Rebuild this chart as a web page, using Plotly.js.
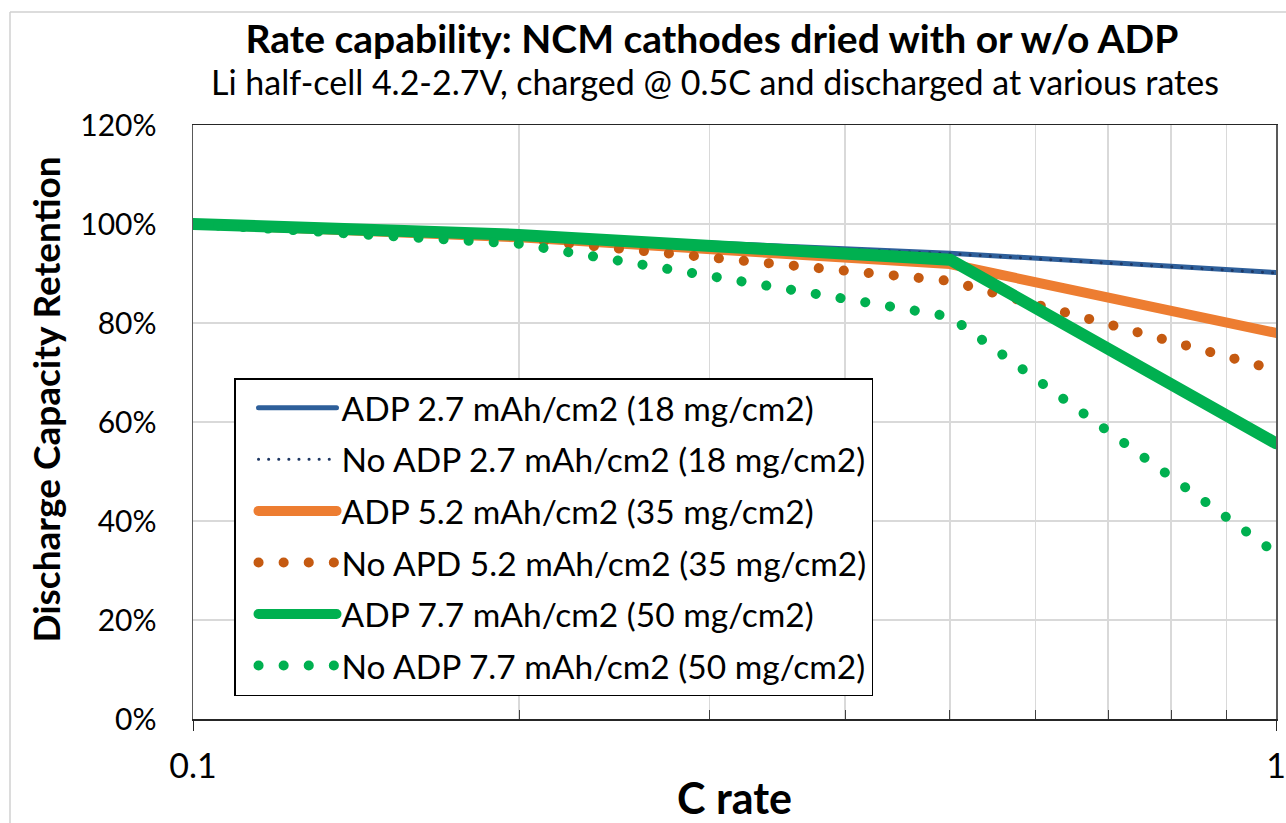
<!DOCTYPE html>
<html>
<head>
<meta charset="utf-8">
<script src="https://cdn.plot.ly/plotly-3.0.1.min.js"></script>
<style>
html,body{margin:0;padding:0;background:#fff;}
#chart{width:1286px;height:823px;}
</style>
</head>
<body>
<div id="chart"></div>
<script>
// C rates (x) and discharge capacity retention (%)
const cRates = [0.1, 0.2, 0.5, 1];
const adp27   = [100, 97.8, 94.1, 90.2];
const noAdp27 = [100, 97.8, 94.0, 90.1];
const adp52   = [100, 97.3, 91.9, 78.0];
const noApd52 = [100, 97.0, 88.5, 70.5];
const adp77   = [100, 97.8, 92.8, 55.7];
const noAdp77 = [100, 96.0, 81.3, 33.5];

const seriesNames = [
  'ADP 2.7 mAh/cm2 (18 mg/cm2)',
  'No ADP 2.7 mAh/cm2 (18 mg/cm2)',
  'ADP 5.2 mAh/cm2 (35 mg/cm2)',
  'No APD 5.2 mAh/cm2 (35 mg/cm2)',
  'ADP 7.7 mAh/cm2 (50 mg/cm2)',
  'No ADP 7.7 mAh/cm2 (50 mg/cm2)'
];
const xTickVals = [0.1, 1];
const xTickText = ['0.1', '1'];
const xMinorVals = [0.2, 0.3, 0.4, 0.5, 0.6, 0.7, 0.8, 0.9];

const FONT = 'Lato, "Open Sans", sans-serif';

function tr(i, y, color, width, dash) {
  return {
    x: cRates, y: y, type: 'scatter', mode: 'lines',
    name: seriesNames[i], legendgroup: 'g' + i,
    line: {color: color, width: width, dash: dash},
    hoverinfo: 'x+y+name'
  };
}

const data = [
  tr(0, adp27,   '#2E5F9A', 5, 'solid'),
  tr(1, noAdp27, '#1F3864', 3, '0.1px,10px'),
  tr(2, adp52,   '#ED7D31', 10, 'solid'),
  tr(3, noApd52, '#C55A11', 10, '0.1px,25px'),
  tr(4, adp77,   '#00B050', 12, 'solid'),
  tr(5, noAdp77, '#00B050', 10, '0.1px,25px')
];

const L = 193, R = 10, T = 125, B = 104;
const W = 1286 - L - R, H = 823 - T - B;
const NB = '\u00a0';

const layout = {
  width: 1286, height: 823,
  margin: {l: L, r: R, t: T, b: B, pad: 0},
  paper_bgcolor: '#ffffff', plot_bgcolor: '#ffffff',
  font: {family: FONT, color: '#000000', size: 26},
  showlegend: true,
  title: {
    text: '<b>Rate capability: NCM cathodes dried with or w/o ADP</b>',
    font: {family: FONT, size: 39, color: '#000000'},
    x: 712 / 1286, xref: 'container', xanchor: 'center',
    y: 1 - 39 / 823, yref: 'container', yanchor: 'middle'
  },
  annotations: [{
    text: 'Li half-cell 4.2-2.7V, charged @ 0.5C and discharged at various rates',
    xref: 'paper', yref: 'paper',
    x: (715 - L) / W, y: (823 - B - 82) / H,
    xanchor: 'center', yanchor: 'middle', showarrow: false,
    font: {family: FONT, size: 34, color: '#000000'}
  }],
  xaxis: {
    type: 'log', range: [-1, 0],
    tickmode: 'array', tickvals: xTickVals, ticktext: xTickText,
    ticks: 'outside', ticklen: 10, tickwidth: 1, tickcolor: '#262626',
    ticklabelstandoff: 7,
    tickfont: {family: FONT, size: 34, color: '#000000'},
    showgrid: true, gridcolor: '#d9d9d9', gridwidth: 1.5,
    minor: {tickmode: 'array', tickvals: xMinorVals, ticks: 'inside', ticklen: 9,
            tickcolor: '#404040', tickwidth: 1,
            showgrid: true, gridcolor: '#d9d9d9', gridwidth: 1.5},
    showline: true, linecolor: '#262626', linewidth: 1.5, mirror: true,
    zeroline: false,
    title: {text: '<b>C rate</b>', font: {family: FONT, size: 43, color: '#000000'}, standoff: 14}
  },
  yaxis: {
    range: [0, 120], tickmode: 'linear', tick0: 0, dtick: 20, ticksuffix: '%',
    ticks: '', ticklabelstandoff: 29,
    tickfont: {family: FONT, size: 30, color: '#000000'},
    showgrid: true, gridcolor: '#d9d9d9', gridwidth: 1.5,
    showline: true, linecolor: '#595959', linewidth: 1.5, mirror: true,
    zeroline: false,
    title: {text: '<b>' + NB.repeat(5) + 'Discharge Capacity Retention</b>',
            font: {family: FONT, size: 37, color: '#000000'}, standoff: 8}
  },
  legend: {
    x: (234 - L) / W, y: (823 - B - 378) / H, xanchor: 'left', yanchor: 'top',
    bgcolor: '#ffffff', bordercolor: '#000000', borderwidth: 1.5,
    font: {family: FONT, size: 33.5, color: '#000000'},
    traceorder: 'grouped', tracegroupgap: 5, itemwidth: 96
  },
  shapes: [
    {type: 'line', xref: 'paper', yref: 'paper', x0: (10 - L) / W, x1: (10 - L) / W,
     y0: -B / H - 0.05, y1: (823 - B - 12) / H, line: {color: '#d0d0d0', width: 1.5}},
    {type: 'line', xref: 'paper', yref: 'paper', x0: (10 - L) / W, x1: 1 + (R + 5) / W,
     y0: (823 - B - 12) / H, y1: (823 - B - 12) / H, line: {color: '#d0d0d0', width: 1.5}}
  ]
};

function roundCaps(gd) {
  gd.querySelectorAll('.scatterlayer .trace path.js-line').forEach(p => {
    p.style.strokeLinecap = 'round';
  });
  gd.querySelectorAll('.legend .legendlines path').forEach(p => {
    p.style.strokeLinecap = 'round';
    p.setAttribute('d', 'M23,0h78');
  });
}

Plotly.newPlot('chart', data, layout, {displayModeBar: false, staticPlot: true}).then(gd => {
  roundCaps(gd);
  gd.on('plotly_afterplot', () => roundCaps(gd));
});
</script>
</body>
</html>
